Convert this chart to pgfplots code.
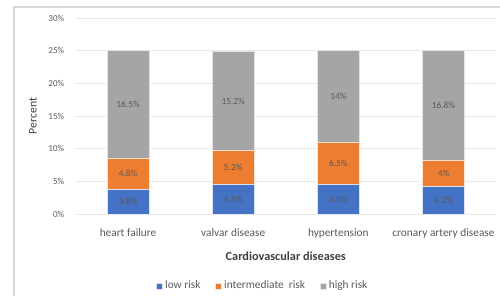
\documentclass[border=0pt]{standalone}
\usepackage{pgfplots}
\usepackage{pgfplotstable}
\pgfplotsset{compat=1.18}
\usepackage{fontspec}
\setmainfont{Carlito}
\definecolor{cblue}{HTML}{4472C4}
\definecolor{corange}{HTML}{ED7D31}
\definecolor{cgrey}{HTML}{A5A5A5}
\definecolor{tick}{HTML}{595959}
\definecolor{gridc}{HTML}{E8E8E8}
\definecolor{framec}{HTML}{D9D9D9}
\pgfplotstableread{
x low mid high
0 3.8 4.8 16.5
1 4.5 5.2 15.2
2 4.5 6.5 14
3 4.2 4 16.8
}\data
\begin{document}
\begin{tikzpicture}
\useasboundingbox (0pt,0pt) rectangle (375pt,222pt);
\draw[framec,line width=0.8pt] (10.5pt,216.75pt) rectangle (390pt,-20pt);
\begin{axis}[
  at={(56.625pt,61.5pt)}, anchor=south west,
  scale only axis, width=315.4pt, height=147pt,
  ybar stacked, bar width=31.5pt,
  xmin=-0.5, xmax=3.5, ymin=0, ymax=30,
  xtick={0,1,2,3},
  xticklabels={heart failure, valvar disease, hypertension, cronary artery disease},
  ytick={0,5,...,30},
  yticklabel={\pgfmathprintnumber{\tick}\%},
  /pgf/number format/assume math mode=true,
  axis line style={draw=none},
  major tick length=0pt,
  ymajorgrids, grid style={gridc, line width=0.6pt},
  tick label style={text=tick},
  x tick label style={font=\fontsize{8.5}{9}\selectfont, anchor=center, yshift=-14.25pt},
  y tick label style={font=\fontsize{6.8}{7}\selectfont, anchor=east, xshift=-5pt},
  xlabel={\textbf{Cardiovascular diseases}},
  xlabel style={font=\fontsize{9.2}{10}\selectfont, text=black!75, at={(axis description cs:0.5,-0.214)}, anchor=center},
  ylabel={Percent},
  ylabel style={font=\fontsize{8.8}{10}\selectfont, text=black!75, at={(axis description cs:-0.101,0.5)}, anchor=center},
  legend columns=3,
  legend style={draw=none, fill=none, at={(axis description cs:0.446,-0.367)}, anchor=center, font=\fontsize{8.5}{9}\selectfont, text=tick, /tikz/every even column/.append style={column sep=9pt}},
  legend image code/.code={\fill[#1] (0pt,-2.2pt) rectangle (4.5pt,2.3pt);},
  nodes near coords={\pgfmathprintnumber{\pgfplotspointmeta}\%},
  point meta=explicit,
  every node near coord/.append style={font=\fontsize{7}{8}\selectfont, text=black!65, anchor=center},
]
\addplot[fill=cblue, draw=white!80!cblue, line width=0.3pt]
  table[x=x, y=low, meta=low] {\data};
\addplot[fill=corange, draw=white!80!corange, line width=0.3pt]
  table[x=x, y=mid, meta=mid] {\data};
\addplot[fill=cgrey, draw=white!70!cgrey, line width=0.3pt]
  table[x=x, y=high, meta=high] {\data};
\legend{low risk, intermediate\ \ risk, high risk}
\end{axis}
\end{tikzpicture}
\end{document}
